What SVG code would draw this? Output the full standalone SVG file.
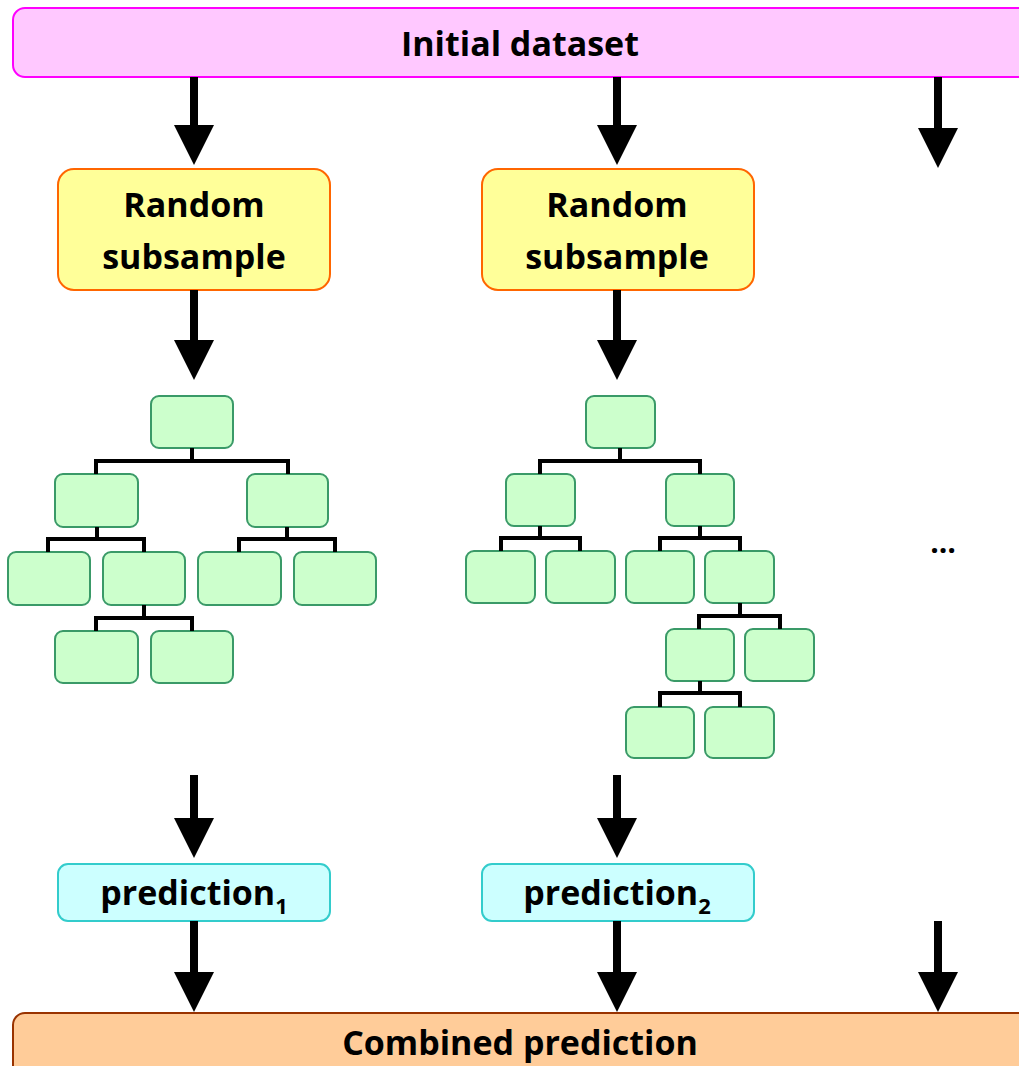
<svg xmlns="http://www.w3.org/2000/svg" width="1019" height="1066" viewBox="0 0 1019 1066">
<style>
text{font-family:"Open Sans","Liberation Sans",sans-serif;font-weight:bold;fill:#000;text-anchor:middle}
.big{font-size:34px}
.mid{font-size:34px}
.leaf{fill:#ccffcc;stroke:#3a9a68;stroke-width:2}
.arrow{stroke:#000;stroke-width:8;fill:none}
.tl{stroke:#000;stroke-width:4;fill:none}
</style>
<defs>
<marker id="ah" viewBox="0 0 40 40" refX="0" refY="20" markerWidth="40" markerHeight="40" markerUnits="userSpaceOnUse" orient="auto">
<path d="M0,0 L40,20 L0,40 Z" fill="#000"/>
</marker>
</defs>

<g id="initial">
<rect x="13" y="8" width="1030" height="69" rx="12" fill="#ffc8ff" stroke="#ff00ff" stroke-width="2"/>
<text class="big" x="520" y="56">Initial dataset</text>
</g>

<g id="subsample1">
<rect x="58" y="169" width="272" height="121" rx="16" fill="#ffff99" stroke="#ff6600" stroke-width="2"/>
<text class="mid" x="194" y="217">Random</text>
<text class="mid" x="194" y="269">subsample</text>
</g>
<g id="subsample2">
<rect x="482" y="169" width="272" height="121" rx="16" fill="#ffff99" stroke="#ff6600" stroke-width="2"/>
<text class="mid" x="617" y="217">Random</text>
<text class="mid" x="617" y="269">subsample</text>
</g>

<g id="tree1">
<rect class="leaf" x="151" y="396" width="82" height="52" rx="8"/>
<rect class="leaf" x="55" y="474" width="83" height="53" rx="8"/>
<rect class="leaf" x="247" y="474" width="81" height="53" rx="8"/>
<rect class="leaf" x="8" y="552" width="82" height="53" rx="8"/>
<rect class="leaf" x="103" y="552" width="82" height="53" rx="8"/>
<rect class="leaf" x="198" y="552" width="83" height="53" rx="8"/>
<rect class="leaf" x="294" y="552" width="82" height="53" rx="8"/>
<rect class="leaf" x="55" y="631" width="83" height="52" rx="8"/>
<rect class="leaf" x="151" y="631" width="82" height="52" rx="8"/>
</g>

<g id="tree2">
<rect class="leaf" x="586" y="396" width="69" height="52" rx="8"/>
<rect class="leaf" x="506" y="474" width="69" height="52" rx="8"/>
<rect class="leaf" x="666" y="474" width="68" height="52" rx="8"/>
<rect class="leaf" x="466" y="551" width="69" height="52" rx="8"/>
<rect class="leaf" x="546" y="551" width="69" height="52" rx="8"/>
<rect class="leaf" x="626" y="551" width="68" height="52" rx="8"/>
<rect class="leaf" x="705" y="551" width="69" height="52" rx="8"/>
<rect class="leaf" x="666" y="629" width="68" height="52" rx="8"/>
<rect class="leaf" x="745" y="629" width="69" height="52" rx="8"/>
<rect class="leaf" x="626" y="707" width="68" height="51" rx="8"/>
<rect class="leaf" x="705" y="707" width="69" height="51" rx="8"/>
</g>

<g id="ellipsis">
<text x="943" y="553" style="font-size:30px">…</text>
</g>

<g id="prediction1">
<rect x="58" y="864" width="272" height="57" rx="10" fill="#ccffff" stroke="#33cccc" stroke-width="2"/>
<text class="mid" x="194" y="905">prediction<tspan style="font-size:22px" dy="9">1</tspan></text>
</g>
<g id="prediction2">
<rect x="482" y="864" width="272" height="57" rx="10" fill="#ccffff" stroke="#33cccc" stroke-width="2"/>
<text class="mid" x="617" y="905">prediction<tspan style="font-size:22px" dy="9">2</tspan></text>
</g>

<g id="combined">
<rect x="13" y="1013" width="1030" height="80" rx="12" fill="#ffcc99" stroke="#993300" stroke-width="2"/>
<text class="big" x="520" y="1055">Combined prediction</text>
</g>

<g id="connectors">
<line class="arrow" x1="194" y1="77" x2="194" y2="125" marker-end="url(#ah)"/>
<line class="arrow" x1="617" y1="77" x2="617" y2="125" marker-end="url(#ah)"/>
<line class="arrow" x1="938" y1="77" x2="938" y2="128" marker-end="url(#ah)"/>
<line class="arrow" x1="194" y1="290" x2="194" y2="340" marker-end="url(#ah)"/>
<line class="arrow" x1="617" y1="290" x2="617" y2="340" marker-end="url(#ah)"/>
<line class="arrow" x1="194" y1="775" x2="194" y2="818" marker-end="url(#ah)"/>
<line class="arrow" x1="617" y1="775" x2="617" y2="818" marker-end="url(#ah)"/>
<line class="arrow" x1="194" y1="921" x2="194" y2="972" marker-end="url(#ah)"/>
<line class="arrow" x1="617" y1="921" x2="617" y2="972" marker-end="url(#ah)"/>
<line class="arrow" x1="938" y1="921" x2="938" y2="972" marker-end="url(#ah)"/>
<path class="tl" d="M192,448 V461 M96,474 V461 H288 V474"/>
<path class="tl" d="M97,527 V539 M48,552 V539 H144 V552"/>
<path class="tl" d="M287,527 V539 M239,552 V539 H335 V552"/>
<path class="tl" d="M144,605 V618 M96,631 V618 H192 V631"/>
<path class="tl" d="M620,448 V461 M540,474 V461 H700 V474"/>
<path class="tl" d="M540,526 V538 M501,551 V538 H580 V551"/>
<path class="tl" d="M700,526 V538 M660,551 V538 H740 V551"/>
<path class="tl" d="M740,603 V616 M699,629 V616 H780 V629"/>
<path class="tl" d="M700,681 V693 M660,707 V693 H740 V707"/>
</g>
</svg>
